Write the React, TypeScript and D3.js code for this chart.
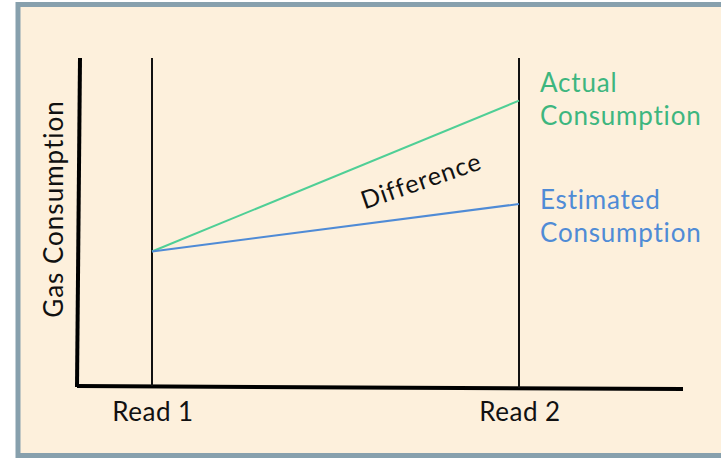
import React from 'react';
import * as d3 from 'd3';

const reads = ['Read 1', 'Read 2'];
const actualValues = [41, 87];
const estimatedValues = [41, 55.5];
const seriesLabels = [
  { name: 'actual', lines: ['Actual', 'Consumption'], color: '#3db67f', stroke: '#4fcf96' },
  { name: 'estimated', lines: ['Estimated', 'Consumption'], color: '#4f8bd6', stroke: '#4f8bd6' },
];
const yTitle = 'Gas Consumption';
const diffLabel = 'Difference';

const W = 721;
const H = 458;
const font = 'Lato, "Open Sans", sans-serif';

export default function App() {
  const x = d3.scalePoint<string>().domain(reads).range([152, 519]);
  const y = d3.scaleLinear().domain([0, 100]).range([386, 58]);

  const line = d3
    .line<number>()
    .x((_, i) => x(reads[i]) as number)
    .y(d => y(d));

  const x1 = x(reads[0]) as number;
  const x2 = x(reads[1]) as number;

  const actualEnd = y(actualValues[1]);
  const estEnd = y(estimatedValues[1]);

  // difference label sits between the two lines
  const midX = 424;
  const t = (midX - x1) / (x2 - x1);
  const midY =
    (y(actualValues[0] + (actualValues[1] - actualValues[0]) * t) +
      y(estimatedValues[0] + (estimatedValues[1] - estimatedValues[0]) * t)) /
    2;

  return (
    <svg
      width={W}
      height={H}
      style={{ position: 'absolute', left: 0, top: 0, display: 'block' }}
    >
      <rect x={0} y={0} width={W} height={H} fill="#ffffff" />
      <rect x={18} y={4.5} width={W + 10} height={451} fill="#fdf0dc" stroke="#87a0ad" strokeWidth={5} />

      {/* axes */}
      <line x1={80} y1={y(100)} x2={77} y2={y(0) + 1} stroke="#000" strokeWidth={4} />
      <line x1={77} y1={y(0)} x2={683} y2={y(0) + 3} stroke="#000" strokeWidth={4} />

      {reads.map((r, i) => (
        <g key={r}>
          <line
            x1={x(r)}
            x2={x(r)}
            y1={y(100)}
            y2={y(0) + i * 2}
            stroke="#111"
            strokeWidth={2}
          />
          <text
            x={(x(r) as number) + 1}
            y={421}
            textAnchor="middle"
            fontFamily={font}
            fontSize={26}
            letterSpacing={0.5}
            fill="#111"
          >
            {r}
          </text>
        </g>
      ))}

      <path d={line(actualValues) || ''} fill="none" stroke={seriesLabels[0].stroke} strokeWidth={2} />
      <path d={line(estimatedValues) || ''} fill="none" stroke={seriesLabels[1].stroke} strokeWidth={2} />

      {seriesLabels.map((s, si) => {
        const cy = si === 0 ? actualEnd - 9 : estEnd + 5;
        return (
          <text key={s.name} fontFamily={font} fontSize={26} letterSpacing={0.8} fill={s.color}>
            {s.lines.map((l, li) => (
              <tspan key={l} x={540} y={cy + li * 33}>
                {l}
              </tspan>
            ))}
          </text>
        );
      })}

      <text
        transform={`translate(${midX},${midY + 11}) rotate(-19)`}
        textAnchor="middle"
        fontFamily={font}
        fontSize={25}
        letterSpacing={1}
        fill="#111"
      >
        {diffLabel}
      </text>

      <text
        transform="translate(63,209) rotate(-90)"
        textAnchor="middle"
        fontFamily={font}
        fontSize={26}
        letterSpacing={1}
        fill="#111"
      >
        {yTitle}
      </text>
    </svg>
  );
}
